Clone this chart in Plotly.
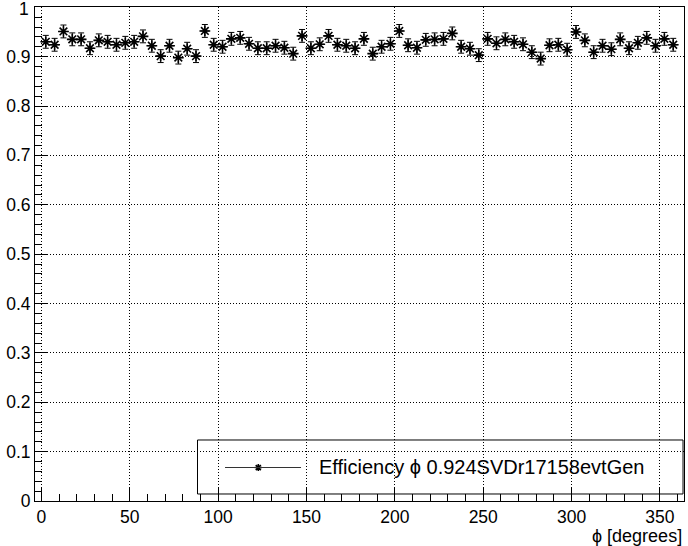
import plotly.graph_objects as go

# Efficiency per 5-degree phi bin (bin centres in degrees)
phi_deg = [2.5 + 5 * i for i in range(72)]
eff = [
    0.930, 0.924, 0.951, 0.935, 0.935, 0.917, 0.933, 0.930, 0.924, 0.928,
    0.930, 0.941, 0.922, 0.901, 0.922, 0.898, 0.916, 0.901, 0.952, 0.924,
    0.920, 0.936, 0.938, 0.926, 0.917, 0.917, 0.922, 0.918, 0.906, 0.942,
    0.917, 0.925, 0.942, 0.924, 0.922, 0.917, 0.936, 0.906, 0.920, 0.926,
    0.952, 0.923, 0.918, 0.934, 0.935, 0.936, 0.947, 0.920, 0.916, 0.903,
    0.936, 0.927, 0.935, 0.930, 0.925, 0.909, 0.896, 0.923, 0.924, 0.914,
    0.950, 0.933, 0.909, 0.922, 0.915, 0.935, 0.917, 0.928, 0.938, 0.922,
    0.936, 0.924,
]
eff_err = [
    0.013, 0.013, 0.013, 0.013, 0.013, 0.013, 0.013, 0.013, 0.013, 0.013,
    0.013, 0.013, 0.013, 0.013, 0.013, 0.013, 0.013, 0.013, 0.013, 0.013,
    0.013, 0.013, 0.013, 0.013, 0.013, 0.013, 0.013, 0.013, 0.013, 0.013,
    0.013, 0.013, 0.013, 0.013, 0.013, 0.013, 0.013, 0.013, 0.013, 0.013,
    0.013, 0.013, 0.013, 0.013, 0.013, 0.013, 0.013, 0.013, 0.013, 0.013,
    0.013, 0.013, 0.013, 0.013, 0.013, 0.013, 0.013, 0.013, 0.013, 0.013,
    0.013, 0.013, 0.013, 0.013, 0.013, 0.013, 0.013, 0.013, 0.013, 0.013,
    0.013, 0.013,
]
half_bin = 2.5

x_ticks = [0, 50, 100, 150, 200, 250, 300, 350]
y_ticks = [0, 0.1, 0.2, 0.3, 0.4, 0.5, 0.6, 0.7, 0.8, 0.9, 1.0]
y_tick_text = ["0", "0.1", "0.2", "0.3", "0.4", "0.5", "0.6", "0.7", "0.8", "0.9", "1"]

legend_label = "Efficiency \u03d5 0.924SVDr17158evtGen"
x_title = "\u03d5 [degrees]"

FONT = "Liberation Sans, Arial, Helvetica, sans-serif"
TICK_SIZE = 17.5

fig = go.Figure()

fig.add_trace(go.Scatter(
    x=phi_deg, y=eff,
    mode="markers",
    marker=dict(symbol="asterisk-open", size=9, color="black",
                line=dict(color="black", width=1.6)),
    error_y=dict(type="data", array=eff_err, visible=True,
                 color="black", thickness=1, width=3),
    error_x=dict(type="constant", value=half_bin, visible=True,
                 color="black", thickness=1, width=0),
    showlegend=False,
))

# legend sample marker on an overlay axis spanning the plot area
fig.add_trace(go.Scatter(
    x=[0.3441], y=[0.0678],
    xaxis="x2", yaxis="y2",
    mode="markers",
    marker=dict(symbol="asterisk-open", size=6, color="black",
                line=dict(color="black", width=1.6)),
    showlegend=False, hoverinfo="skip",
))

axis_common = dict(
    showline=True, linecolor="black", linewidth=1, mirror=True,
    ticks="inside", tickcolor="black", tickwidth=1,
    showgrid=True, gridcolor="black", gridwidth=1, griddash="1px,2px",
    zeroline=False, ticklabeloverflow="allow", automargin=False,
    tickfont=dict(family=FONT, size=TICK_SIZE, color="black"),
)

# the top label sits at the figure edge; it is drawn as an annotation
# nudged just inside the page instead of as a tick label
y_axis_text = y_tick_text[:-1] + [""]

fig.update_layout(
    width=688, height=546,
    margin=dict(l=35, r=4, t=7, b=45),
    paper_bgcolor="white", plot_bgcolor="white",
    font=dict(family=FONT, color="black"),
    xaxis=dict(
        range=[-3.6, 363.6],
        tickvals=x_ticks, ticklen=14,
        minor=dict(ticks="inside", ticklen=7, dtick=10, tick0=0,
                   tickcolor="black", showgrid=False),
        **axis_common,
    ),
    yaxis=dict(
        range=[0, 1.0005],
        tickvals=y_ticks, ticktext=y_axis_text, ticklen=13,
        minor=dict(ticks="inside", ticklen=7, dtick=0.02, tick0=0,
                   tickcolor="black", showgrid=False),
        **axis_common,
    ),
    xaxis2=dict(range=[0, 1], overlaying="x", visible=False, fixedrange=True),
    yaxis2=dict(range=[0, 1], overlaying="y", visible=False, fixedrange=True),
    shapes=[
        # legend frame (transparent)
        dict(type="rect", xref="paper", yref="paper",
             x0=0.2504, x1=0.9985, y0=0.0142, y1=0.1235,
             line=dict(color="black", width=1), fillcolor="rgba(0,0,0,0)"),
        # legend sample line
        dict(type="line", xref="paper", yref="paper",
             x0=0.2928, x1=0.4099, y0=0.0678, y1=0.0678,
             line=dict(color="#333333", width=1.2)),
    ],
    annotations=[
        dict(text=y_tick_text[-1], xref="paper", yref="paper",
             x=-0.006, y=0.996, xanchor="right", yanchor="middle",
             showarrow=False,
             font=dict(family=FONT, size=TICK_SIZE, color="black")),
        dict(text=legend_label, xref="paper", yref="paper",
             x=0.4345, y=0.0688, xanchor="left", yanchor="middle",
             showarrow=False, font=dict(family=FONT, size=20, color="black")),
        dict(text=x_title, xref="paper", yref="paper",
             x=1.0, y=-0.0709, xanchor="right", yanchor="middle",
             showarrow=False, font=dict(family=FONT, size=18, color="black")),
    ],
)

fig.write_html("out.html")
